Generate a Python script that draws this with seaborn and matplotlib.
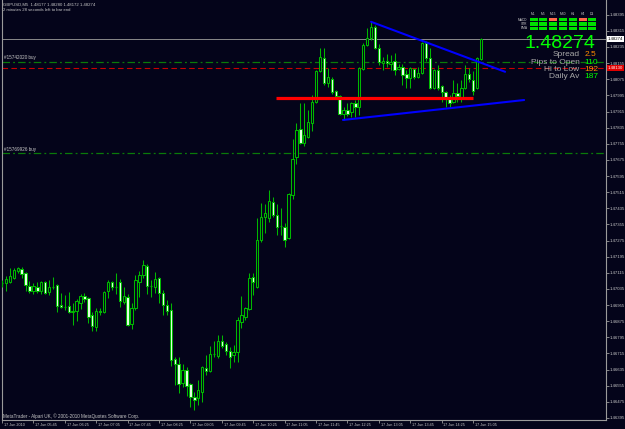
import numpy as np
import pandas as pd
import matplotlib
matplotlib.use("Agg")
import matplotlib.pyplot as plt
import seaborn as sns
from matplotlib.patches import Rectangle

# ---------------- data (GBPUSD M5, 17 Jun 2010, 05:05 .. 15:15) ----------------
opens = [1.47064, 1.47064, 1.47069, 1.47089, 1.47124, 1.47134, 1.47114, 1.47049, 1.47025, 1.47045,
         1.47025, 1.47069, 1.47020, 1.47045, 1.47054, 1.46955, 1.46945, 1.46950, 1.46920, 1.46925,
         1.46965, 1.47000, 1.46990, 1.46906, 1.46846, 1.46925, 1.46920, 1.47025, 1.47069, 1.47045,
         1.47069, 1.46970, 1.46995, 1.46861, 1.46940, 1.47069, 1.47104, 1.47149, 1.47049, 1.47045,
         1.47089, 1.47015, 1.46955, 1.46930, 1.46687, 1.46663, 1.46568, 1.46633, 1.46563, 1.46499,
         1.46494, 1.46524, 1.46643, 1.46628, 1.46712, 1.46702, 1.46777, 1.46762, 1.46727, 1.46707,
         1.46722, 1.46871, 1.46896, 1.46935, 1.47094, 1.47045, 1.47278, 1.47392, 1.47387, 1.47466,
         1.47402, 1.47347, 1.47342, 1.47287, 1.47501, 1.47689, 1.47828, 1.47759, 1.47789, 1.47858,
         1.47962, 1.48116, 1.48180, 1.48056, 1.48076, 1.48017, 1.47992, 1.47903, 1.47922, 1.47912,
         1.47957, 1.47937, 1.48126, 1.48245, 1.48280, 1.48334, 1.48230, 1.48155, 1.48165, 1.48151,
         1.48165, 1.48126, 1.48136, 1.48101, 1.48081, 1.48126, 1.48086, 1.48106, 1.48255, 1.48180,
         1.48032, 1.48121, 1.48041, 1.48012, 1.47977, 1.47962, 1.48007, 1.47987, 1.48032, 1.48101,
         1.48071, 1.48032, 1.48177]
highs = [1.47079, 1.47099, 1.47139, 1.47139, 1.47144, 1.47144, 1.47119, 1.47074, 1.47064, 1.47069,
         1.47074, 1.47074, 1.47079, 1.47094, 1.47059, 1.47015, 1.47005, 1.47020, 1.46965, 1.46985,
         1.47010, 1.47015, 1.46995, 1.46920, 1.46940, 1.46940, 1.47025, 1.47079, 1.47074, 1.47114,
         1.47084, 1.47045, 1.47010, 1.46965, 1.47104, 1.47124, 1.47178, 1.47159, 1.47079, 1.47119,
         1.47094, 1.47030, 1.46980, 1.46965, 1.46697, 1.46697, 1.46663, 1.46648, 1.46568, 1.46524,
         1.46583, 1.46653, 1.46707, 1.46752, 1.46777, 1.46806, 1.46806, 1.46772, 1.46747, 1.46757,
         1.46896, 1.47000, 1.46945, 1.47114, 1.47114, 1.47387, 1.47461, 1.47456, 1.47526, 1.47491,
         1.47456, 1.47436, 1.47362, 1.47511, 1.47779, 1.47858, 1.47957, 1.47957, 1.47922, 1.47997,
         1.48121, 1.48230, 1.48230, 1.48131, 1.48086, 1.48022, 1.47997, 1.47937, 1.47957, 1.47962,
         1.47972, 1.48136, 1.48255, 1.48329, 1.48359, 1.48344, 1.48250, 1.48185, 1.48200, 1.48195,
         1.48205, 1.48151, 1.48151, 1.48121, 1.48136, 1.48131, 1.48136, 1.48260, 1.48265, 1.48230,
         1.48126, 1.48146, 1.48046, 1.48017, 1.47997, 1.48071, 1.48056, 1.48071, 1.48146, 1.48131,
         1.48116, 1.48185, 1.48280]
lows = [1.47045, 1.47025, 1.47064, 1.47084, 1.47114, 1.47089, 1.47025, 1.47015, 1.47010, 1.47015,
        1.47010, 1.47010, 1.47005, 1.47035, 1.46920, 1.46940, 1.46930, 1.46915, 1.46856, 1.46876,
        1.46935, 1.46970, 1.46866, 1.46826, 1.46826, 1.46906, 1.46915, 1.46990, 1.47030, 1.47010,
        1.46945, 1.46960, 1.46851, 1.46836, 1.46930, 1.46995, 1.47089, 1.47010, 1.46995, 1.47015,
        1.46965, 1.46906, 1.46906, 1.46653, 1.46558, 1.46519, 1.46548, 1.46504, 1.46449, 1.46434,
        1.46459, 1.46474, 1.46608, 1.46623, 1.46697, 1.46692, 1.46742, 1.46707, 1.46643, 1.46672,
        1.46672, 1.46841, 1.46881, 1.46930, 1.47005, 1.47040, 1.47268, 1.47312, 1.47367, 1.47392,
        1.47302, 1.47302, 1.47243, 1.47283, 1.47481, 1.47655, 1.47754, 1.47744, 1.47784, 1.47818,
        1.47957, 1.48111, 1.48046, 1.48036, 1.48002, 1.47982, 1.47898, 1.47873, 1.47893, 1.47888,
        1.47888, 1.47898, 1.48121, 1.48240, 1.48270, 1.48225, 1.48146, 1.48121, 1.48136, 1.48121,
        1.48096, 1.48121, 1.48046, 1.48032, 1.48032, 1.48076, 1.48081, 1.48101, 1.48165, 1.48027,
        1.48027, 1.48022, 1.47962, 1.47937, 1.47932, 1.47957, 1.47962, 1.47962, 1.48027, 1.48061,
        1.47997, 1.48027, 1.48172]
closes = [1.47064, 1.47084, 1.47099, 1.47129, 1.47139, 1.47109, 1.47054, 1.47025, 1.47049, 1.47025,
          1.47069, 1.47015, 1.47045, 1.47045, 1.46950, 1.46945, 1.46945, 1.46920, 1.46925, 1.46975,
          1.47000, 1.46985, 1.46896, 1.46851, 1.46925, 1.46920, 1.47020, 1.47069, 1.47045, 1.47045,
          1.46975, 1.47000, 1.46856, 1.46940, 1.47079, 1.47104, 1.47154, 1.47049, 1.47049, 1.47084,
          1.47015, 1.46955, 1.46925, 1.46682, 1.46663, 1.46563, 1.46633, 1.46553, 1.46499, 1.46484,
          1.46534, 1.46648, 1.46628, 1.46712, 1.46712, 1.46777, 1.46752, 1.46727, 1.46697, 1.46722,
          1.46881, 1.46906, 1.46940, 1.47089, 1.47069, 1.47278, 1.47392, 1.47412, 1.47471, 1.47402,
          1.47342, 1.47347, 1.47278, 1.47506, 1.47679, 1.47823, 1.47759, 1.47798, 1.47863, 1.47962,
          1.48116, 1.48185, 1.48056, 1.48086, 1.48012, 1.47992, 1.47903, 1.47922, 1.47903, 1.47957,
          1.47937, 1.48131, 1.48245, 1.48280, 1.48334, 1.48230, 1.48160, 1.48165, 1.48155, 1.48160,
          1.48121, 1.48136, 1.48096, 1.48081, 1.48131, 1.48086, 1.48106, 1.48255, 1.48180, 1.48032,
          1.48121, 1.48032, 1.48012, 1.47977, 1.47957, 1.48007, 1.47992, 1.48032, 1.48101, 1.48076,
          1.48017, 1.48180, 1.48274]

time_label_pos = [0, 8, 16, 24, 32, 40, 48, 56, 64, 72, 80, 88, 96, 104, 112, 120]
time_labels = ["17 Jun 2010", "17 Jun 05:45", "17 Jun 06:25", "17 Jun 07:05", "17 Jun 07:45",
               "17 Jun 08:25", "17 Jun 09:05", "17 Jun 09:45", "17 Jun 10:25", "17 Jun 11:05",
               "17 Jun 11:45", "17 Jun 12:25", "17 Jun 13:05", "17 Jun 13:45", "17 Jun 14:25",
               "17 Jun 15:05"]
price_ticks = [1.46395, 1.46475, 1.46555, 1.46635, 1.46715, 1.46795, 1.46875, 1.46955, 1.47035,
               1.47115, 1.47195, 1.47275, 1.47355, 1.47435, 1.47515, 1.47595, 1.47675, 1.47755,
               1.47835, 1.47915, 1.47995, 1.48075, 1.48155, 1.48235, 1.48315, 1.48395]

bid_price = 1.48274
order_levels = [1.48162, 1.47708]
order_names = ["#15742020 buy", "#15769926 buy"]
stop_level = 1.48130
support_level = 1.47980
support_span = [69.9, 119.9]
trend_a_x = [94.0, 128.15]
trend_a_y = [1.48360, 1.48112]
trend_b_x = [86.85, 133.0]
trend_b_y = [1.47873, 1.47972]

stat_names = ["Spread", "Pips to Open", "Hi to Low", "Daily Av"]
stat_values = ["2.5", "110", "192", "187"]
tf_names = ["M1", "M5", "M15", "M30", "H1", "H4", "D1"]
ind_names = ["MACD", "STR", "EMA"]
ind_signal = [[1, 1, 0, 1, 1, 0, 1],
              [1, 1, 1, 1, 1, 1, 1],
              [1, 1, 1, 1, 1, 1, 1]]

# ---------------- style ----------------
sns.set_theme(style="dark")
plt.rcParams["font.family"] = ["Liberation Sans", "DejaVu Sans"]
BG = "#04041a"
GREEN = "#00b800"
LIGHT = "#e8ffe8"
AXC = "#9a9a9a"
TXT = "#c8c8c8"

W, H = 625, 429
fig = plt.figure(figsize=(W / 100, H / 100), dpi=100, facecolor=BG)
ax = fig.add_axes([2 / W, 9 / H, 604 / W, 420 / H])
ax.set_facecolor(BG)
ax.grid(False)

df = pd.DataFrame({"pos": np.arange(len(opens)), "o": opens, "h": highs, "l": lows, "c": closes})
bull = df[df.c > df.o]
bear = df[df.c < df.o]
doji = df[df.c == df.o]

# reference lines
ax.axhline(bid_price, color="#8a8a8a", lw=0.7, zorder=1)
for lv in order_levels:
    ax.axhline(lv, color="#0a7a0a", lw=0.9, dashes=(6, 2.5, 1.5, 2.5), zorder=1)
ax.axhline(stop_level, color="#c80000", lw=0.8, dashes=(5, 3), zorder=1)

# candles
bw = 0.6
ax.vlines(df.pos, df.l, df.h, color=GREEN, lw=0.75, zorder=3)
ax.bar(bull.pos, bull.c - bull.o, bottom=bull.o, width=bw, facecolor=BG, edgecolor=GREEN,
       linewidth=0.75, zorder=4)
ax.bar(bear.pos, bear.o - bear.c, bottom=bear.c, width=bw, facecolor=LIGHT, edgecolor=GREEN,
       linewidth=0.75, zorder=4)
ax.hlines(doji.o, doji.pos - bw / 2, doji.pos + bw / 2, color=GREEN, lw=0.9, zorder=4)

# drawn objects
ax.hlines(support_level, support_span[0], support_span[1], color="#ff0000", lw=2.3, zorder=6)
sns.lineplot(x=trend_a_x, y=trend_a_y, color="#0000ff", lw=1.5, ax=ax, zorder=6)
sns.lineplot(x=trend_b_x, y=trend_b_y, color="#0000ff", lw=1.5, ax=ax, zorder=6)

ax.set_xlim(0.16, 153.85)
ax.set_ylim(1.46385, 1.48468)

# axes / ticks
for s in ["left", "right", "bottom"]:
    ax.spines[s].set_visible(True)
    ax.spines[s].set_color(AXC)
    ax.spines[s].set_linewidth(0.8)
ax.spines["top"].set_visible(False)

ax.yaxis.tick_right()
ax.set_yticks(price_ticks)
ax.set_yticklabels([f"{v:.5f}" for v in price_ticks])
ax.tick_params(axis="y", colors=AXC, labelcolor=TXT, labelsize=3.1, length=2.2, width=0.6,
               pad=0.6, direction="out", right=True, left=False)
ax.set_xticks(time_label_pos)
ax.set_xticklabels([""] * len(time_label_pos))
ax.tick_params(axis="x", colors=AXC, length=2.4, width=0.6, direction="out", bottom=True)
ax.set_xlabel("")
ax.set_ylabel("")
xt = ax.get_xaxis_transform()
for p, lab in zip(time_label_pos, time_labels):
    ax.text(p + 0.45, -0.0115, lab, transform=xt, ha="left", va="center", fontsize=2.7,
            color=TXT, clip_on=False)

yt = ax.get_yaxis_transform()
ax.text(1.0025, bid_price, f"{bid_price:.5f}", transform=yt, ha="left", va="center",
        fontsize=3.1, color="black", zorder=10, clip_on=False,
        bbox=dict(boxstyle="square,pad=0.2", fc="white", ec="none"))
ax.text(1.0025, stop_level, f"{stop_level:.5f}", transform=yt, ha="left", va="center",
        fontsize=3.1, color="white", zorder=10, clip_on=False,
        bbox=dict(boxstyle="square,pad=0.2", fc="#e00000", ec="none"))

for lv, name in zip(order_levels, order_names):
    ax.annotate(name, xy=(0, lv), xycoords=("axes fraction", "data"), xytext=(2, 1.2),
                textcoords="offset pixels", ha="left", va="bottom", fontsize=3.3, color=TXT)


def fx(x):
    return x / W


def fy(y):
    return 1 - y / H


fig.text(fx(3), fy(5), "GBPUSD,M5  1.48177 1.48280 1.48172 1.48274", fontsize=3.1, color=TXT,
         ha="left", va="center")
fig.text(fx(3), fy(10), "2 minutes 28 seconds left to bar end", fontsize=3.1, color=TXT,
         ha="left", va="center")
fig.text(fx(3), fy(416), "MetaTrader - Alpari UK, \u00a9 2001-2010 MetaQuotes Software Corp.",
         fontsize=3.3, color=TXT, ha="left", va="center")

# indicator panel
fig.text(fx(595), fy(48), f"{bid_price:.5f}", fontsize=14, color="#00ff00", ha="right",
         va="baseline")
stat_colors = ["#ff8c00", "#00ff00", "#ff8c00", "#00ff00"]
for i, (nm, val) in enumerate(zip(stat_names, stat_values)):
    yy = 54.5 + 7.5 * i
    fig.text(fx(579.5), fy(yy), nm, fontsize=6, color="#a8a8a8", ha="right", va="center")
    fig.text(fx(584.5), fy(yy), val, fontsize=6, color=stat_colors[i], ha="left", va="center")

col_x = [529.5, 539.3, 549.3, 559.3, 569.0, 578.5, 588.2]
row_y = [18.3, 22.4, 26.6]
for ci, tf in enumerate(tf_names):
    fig.text(fx(col_x[ci] + 4), fy(14), tf, fontsize=2.4, color=TXT, ha="center", va="center")
for ri, nm in enumerate(ind_names):
    fig.text(fx(527.5), fy(row_y[ri] + 1.5), nm, fontsize=2.3, color=TXT, ha="right", va="center")
    for ci in range(len(tf_names)):
        colr = "#00e000" if ind_signal[ri][ci] else "#ff6a4a"
        fig.add_artist(Rectangle((fx(col_x[ci]), fy(row_y[ri] + 3.1)), 8 / W, 3.1 / H,
                                 transform=fig.transFigure, fc=colr, ec="none"))

fig.savefig("out.png", dpi=100, facecolor=BG)
